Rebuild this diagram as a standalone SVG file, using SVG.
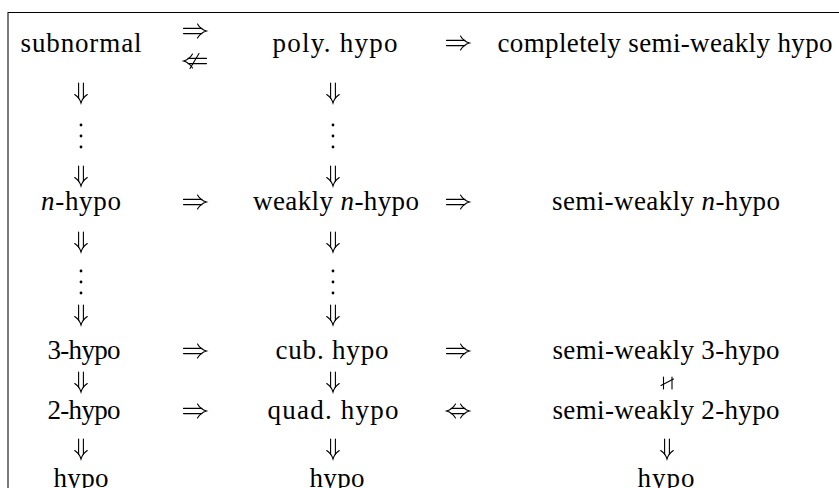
<svg xmlns="http://www.w3.org/2000/svg" width="839" height="488" viewBox="0 0 839 488">
  <style>
    .t { font-family: "Liberation Serif", "Times New Roman", serif; font-size: 27px; fill: #000; text-anchor: middle; }
    .m { font-style: italic; }
    .ar { fill: none; stroke: #000; stroke-width: 1.1; stroke-linecap: round; }
  </style>

  <defs>
    <!-- double arrow to the right, centred on the origin -->
    <g id="imp-r" class="ar">
      <path d="M -11.5 -2.6 H 7 M -11.5 2.6 H 7"/>
      <path d="M 2.5 -7 C 4.5 -3.5 8 -1 11.5 0 C 8 1 4.5 3.5 2.5 7"/>
    </g>
    <!-- negated double arrow to the left -->
    <g id="nimp-l" class="ar">
      <path d="M 11.5 -2.6 H -7 M 11.5 2.6 H -7"/>
      <path d="M -2.5 -7 C -4.5 -3.5 -8 -1 -11.5 0 C -8 1 -4.5 3.5 -2.5 7"/>
      <path d="M -5 7.5 L 4 -7.5"/>
    </g>
    <!-- double arrow both ways -->
    <g id="iff" class="ar">
      <path d="M -7 -2.6 H 7 M -7 2.6 H 7"/>
      <path d="M 2.5 -7 C 4.5 -3.5 8 -1 11.5 0 C 8 1 4.5 3.5 2.5 7"/>
      <path d="M -2.5 -7 C -4.5 -3.5 -8 -1 -11.5 0 C -8 1 -4.5 3.5 -2.5 7"/>
    </g>
    <!-- double arrow downwards -->
    <g id="imp-d" class="ar">
      <path d="M -2.4 -10 V 5.5 M 2.4 -10 V 5.5"/>
      <path d="M -6.3 1.5 C -3.3 3.5 -1 6.5 0 10 C 1 6.5 3.3 3.5 6.3 1.5"/>
    </g>
    <!-- vertical ellipsis -->
    <g id="vdots" fill="#000">
      <circle cx="0" cy="-11" r="1.4"/>
      <circle cx="0" cy="0" r="1.4"/>
      <circle cx="0" cy="11" r="1.4"/>
    </g>
  </defs>

  <!-- table frame -->
  <g id="frame">
    <rect x="7" y="12" width="2" height="476" fill="#7a7a7a"/>
    <line x1="8" y1="12.5" x2="839" y2="12.5" stroke="#000" stroke-width="1"/>
  </g>

  <!-- column 1 -->
  <g id="subnormal"><text class="t" x="81" y="52" textLength="121">subnormal</text></g>
  <g id="n-hypo"><text class="t" x="81" y="210" textLength="80"><tspan class="m">n</tspan>-hypo</text></g>
  <g id="hypo-3"><text class="t" x="84" y="359" textLength="73">3-hypo</text></g>
  <g id="hypo-2"><text class="t" x="84" y="419" textLength="73">2-hypo</text></g>
  <g id="hypo-a"><text class="t" x="81" y="487" textLength="55">hypo</text></g>

  <!-- column 3 -->
  <g id="poly-hypo"><text class="t" x="335" y="52" textLength="125">poly. hypo</text></g>
  <g id="weakly-n-hypo"><text class="t" x="336" y="210" textLength="166">weakly <tspan class="m">n</tspan>-hypo</text></g>
  <g id="cub-hypo"><text class="t" x="332" y="359" textLength="113">cub. hypo</text></g>
  <g id="quad-hypo"><text class="t" x="333" y="419" textLength="131">quad. hypo</text></g>
  <g id="hypo-b"><text class="t" x="337" y="487" textLength="55">hypo</text></g>

  <!-- column 5 -->
  <g id="completely-semi-weakly-hypo"><text class="t" x="665" y="52" textLength="335">completely semi-weakly hypo</text></g>
  <g id="semi-weakly-n-hypo"><text class="t" x="666" y="210" textLength="228">semi-weakly <tspan class="m">n</tspan>-hypo</text></g>
  <g id="semi-weakly-3-hypo"><text class="t" x="666" y="359" textLength="227">semi-weakly 3-hypo</text></g>
  <g id="semi-weakly-2-hypo"><text class="t" x="666" y="419" textLength="227">semi-weakly 2-hypo</text></g>
  <g id="hypo-c"><text class="t" x="666" y="487" textLength="57">hypo</text></g>

  <!-- implications -->
  <g id="connectors">
    <!-- horizontal -->
    <use href="#imp-r" x="195" y="31"/>
    <use href="#nimp-l" x="195" y="61"/>
    <use href="#imp-r" x="458" y="43"/>
    <use href="#imp-r" x="195" y="202"/>
    <use href="#imp-r" x="458" y="202"/>
    <use href="#imp-r" x="195" y="351"/>
    <use href="#imp-r" x="458" y="351"/>
    <use href="#imp-r" x="195" y="411"/>
    <use href="#iff" x="458" y="411"/>
    <!-- column 1 -->
    <use href="#imp-d" x="81" y="93"/>
    <use href="#vdots" x="81" y="136"/>
    <use href="#imp-d" x="81" y="176"/>
    <use href="#imp-d" x="81" y="242"/>
    <use href="#vdots" x="81" y="282"/>
    <use href="#imp-d" x="81" y="315"/>
    <use href="#imp-d" x="81" y="382"/>
    <use href="#imp-d" x="81" y="449"/>
    <!-- column 3 -->
    <use href="#imp-d" x="333" y="93"/>
    <use href="#vdots" x="333" y="136"/>
    <use href="#imp-d" x="333" y="176"/>
    <use href="#imp-d" x="333" y="242"/>
    <use href="#vdots" x="333" y="282"/>
    <use href="#imp-d" x="333" y="315"/>
    <use href="#imp-d" x="333" y="382"/>
    <use href="#imp-d" x="333" y="449"/>
    <!-- column 5: not parallel, then implication -->
    <g class="ar">
      <path d="M 663.5 377 V 389 M 672 377 V 389"/>
      <path d="M 661 385.5 L 673.5 379"/>
    </g>
    <use href="#imp-d" x="667" y="449"/>
  </g>
</svg>
